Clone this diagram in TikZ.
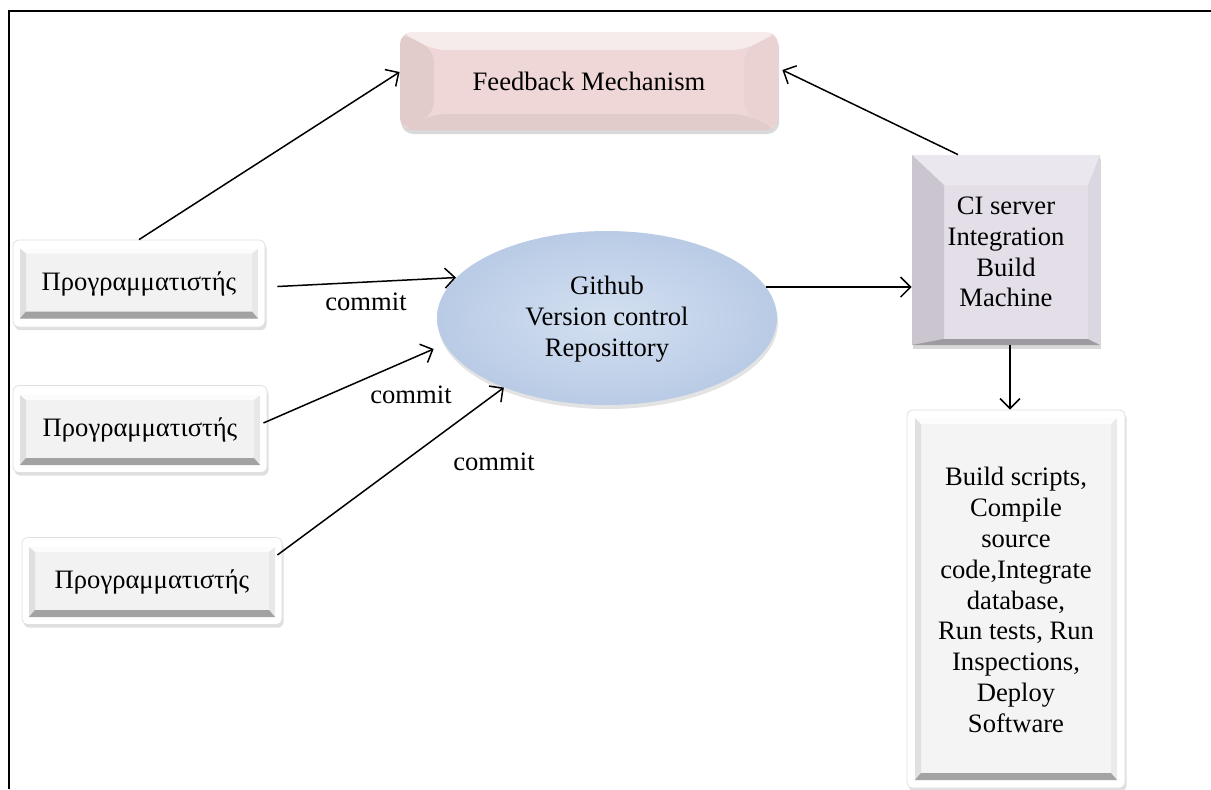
\documentclass[tikz,border=0pt]{standalone}
\usepackage{fontspec}
\setmainfont{Liberation Serif}
\usetikzlibrary{arrows.meta,shapes.geometric,shadows}

\definecolor{fbpink}{HTML}{EED7D6}
\definecolor{progfill}{HTML}{F2F2F2}
\definecolor{repoedge}{HTML}{B9CBE5}
\definecolor{repolight}{HTML}{D3E0F1}
\definecolor{cilav}{HTML}{E3DEE8}
\definecolor{buildfill}{HTML}{F4F4F4}

\tikzset{
  % soft bevelled edges painted inside a node:
  % depths top, bottom, left, right; then opacities of the four bands
  bevel/.style n args={8}{path picture={
    \path (path picture bounding box.south west) coordinate (q1)
          (path picture bounding box.north east) coordinate (q3);
    \path (q1 |- q3) coordinate (q2) (q3 |- q1) coordinate (q4);
    \fill[white,opacity=#5] (q2) -- (q3) -- ([shift={(-#4,-#1)}]q3) -- ([shift={(#3,-#1)}]q2) -- cycle;
    \fill[black,opacity=#6] (q1) -- (q4) -- ([shift={(-#4,#2)}]q4) -- ([shift={(#3,#2)}]q1) -- cycle;
    \fill[black,opacity=#7] (q1) -- (q2) -- ([shift={(#3,-#1)}]q2) -- ([shift={(#3,#2)}]q1) -- cycle;
    \fill[black,opacity=#8] (q4) -- (q3) -- ([shift={(-#4,-#1)}]q3) -- ([shift={(-#4,#2)}]q4) -- cycle;
  }},
  txt/.style={font=\fontsize{13.3}{15.4}\selectfont, align=center, inner sep=0pt},
  frameout/.style={draw=black!12, fill=white, rounded corners=3pt,
    drop shadow={opacity=.25, shadow xshift=.8pt, shadow yshift=-1.6pt}},
  progbox/.style={frameout, minimum width=#1, minimum height=43.5pt},
  proginner/.style={fill=progfill, bevel={2.5pt}{3.5pt}{3pt}{3pt}{.8}{.33}{.08}{.04},
    minimum width=#1, minimum height=35pt, txt},
  conn/.style={draw=black, line width=.75pt, -{Straight Barb[length=5pt,width=10pt,line width=.75pt]}},
  lbl/.style={txt}
}

\begin{document}
\begin{tikzpicture}[x=0.5pt,y=-0.5pt]
\useasboundingbox (0,0) rectangle (1211,789);

% outer frame (left and top edges)
\draw[line width=1.1pt] (9,789) -- (9,11) -- (1211,11);

% feedback
\node[fill=fbpink, rounded corners=6pt, bevel={9pt}{8pt}{17pt}{17pt}{.55}{.05}{.05}{.02},
      minimum width=189pt, minimum height=49pt,
      drop shadow={opacity=.3, shadow xshift=.6pt, shadow yshift=-2pt}, txt]
  (fb) at (589,81) {Feedback Mechanism};

% programmers
\node[progbox=126pt] (p1) at (139,283.5) {};
\node[proginner=119pt] (p1i) at (139,283.5) {Προγραμματιστής};

\node[progbox=127pt] (p2) at (140,429) {};
\node[proginner=120pt] (p2i) at (140,430) {Προγραμματιστής};

\node[progbox=130pt] (p3) at (152,581) {};
\node[proginner=123pt] (p3i) at (152,582) {Προγραμματιστής};

% repository
\node[ellipse, minimum width=170pt, minimum height=87pt, inner color=repolight, outer color=repoedge,
      drop shadow={opacity=.22, shadow xshift=.5pt, shadow yshift=-2pt}]
  (gh) at (607,318) {};
\node[txt] (ghlabel) at (607,319) {Github\\Version control\\Reposittory};

% CI server
\node[fill=cilav, bevel={15pt}{3pt}{16pt}{6pt}{.3}{.3}{.11}{.03},
      minimum width=94pt, minimum height=95pt,
      drop shadow={opacity=.3, shadow xshift=.5pt, shadow yshift=-2pt}]
  (ci) at (1006,250) {};
\node[txt] (cilabel) at (1006,252) {CI server\\Integration\\Build\\Machine};

% build steps
\node[frameout, minimum width=109pt, minimum height=189pt] (bd) at (1016,599) {};
\node[fill=buildfill, bevel={3pt}{3.5pt}{3pt}{3pt}{.8}{.33}{.08}{.04},
      minimum width=101pt, minimum height=181pt] (bdi) at (1016,599) {};
\node[txt] (bdlabel) at (1016,600) {Build scripts,\\Compile\\source\\code,Integrate\\database,\\Run tests, Run\\Inspections,\\Deploy\\Software};

% connectors
\draw[conn] (p1.north) -- ([yshift=4.5pt]fb.west);
\draw[conn] ([xshift=6pt,yshift=-1.5pt]p1.east) -- (gh.165);
\draw[conn] ([xshift=-2pt,yshift=3pt]p2.east) -- ([xshift=-7pt]gh.191);
\draw[conn] ([xshift=-2.5pt,yshift=13pt]p3.east) -- (gh.214);
\draw[conn] (gh.11.5) -- (gh.11.5 -| ci.west);
\draw[conn] ([xshift=-24pt]ci.north) -- ([xshift=2pt,yshift=5.5pt]fb.east);
\draw[conn] ([xshift=2pt]ci.south) -- ([xshift=2pt]ci.south |- bd.north);

% labels
\node[lbl] (c1) at (366,302) {commit};
\node[lbl] (c2) at (411,395) {commit};
\node[lbl] (c3) at (494,462) {commit};
\end{tikzpicture}
\end{document}
